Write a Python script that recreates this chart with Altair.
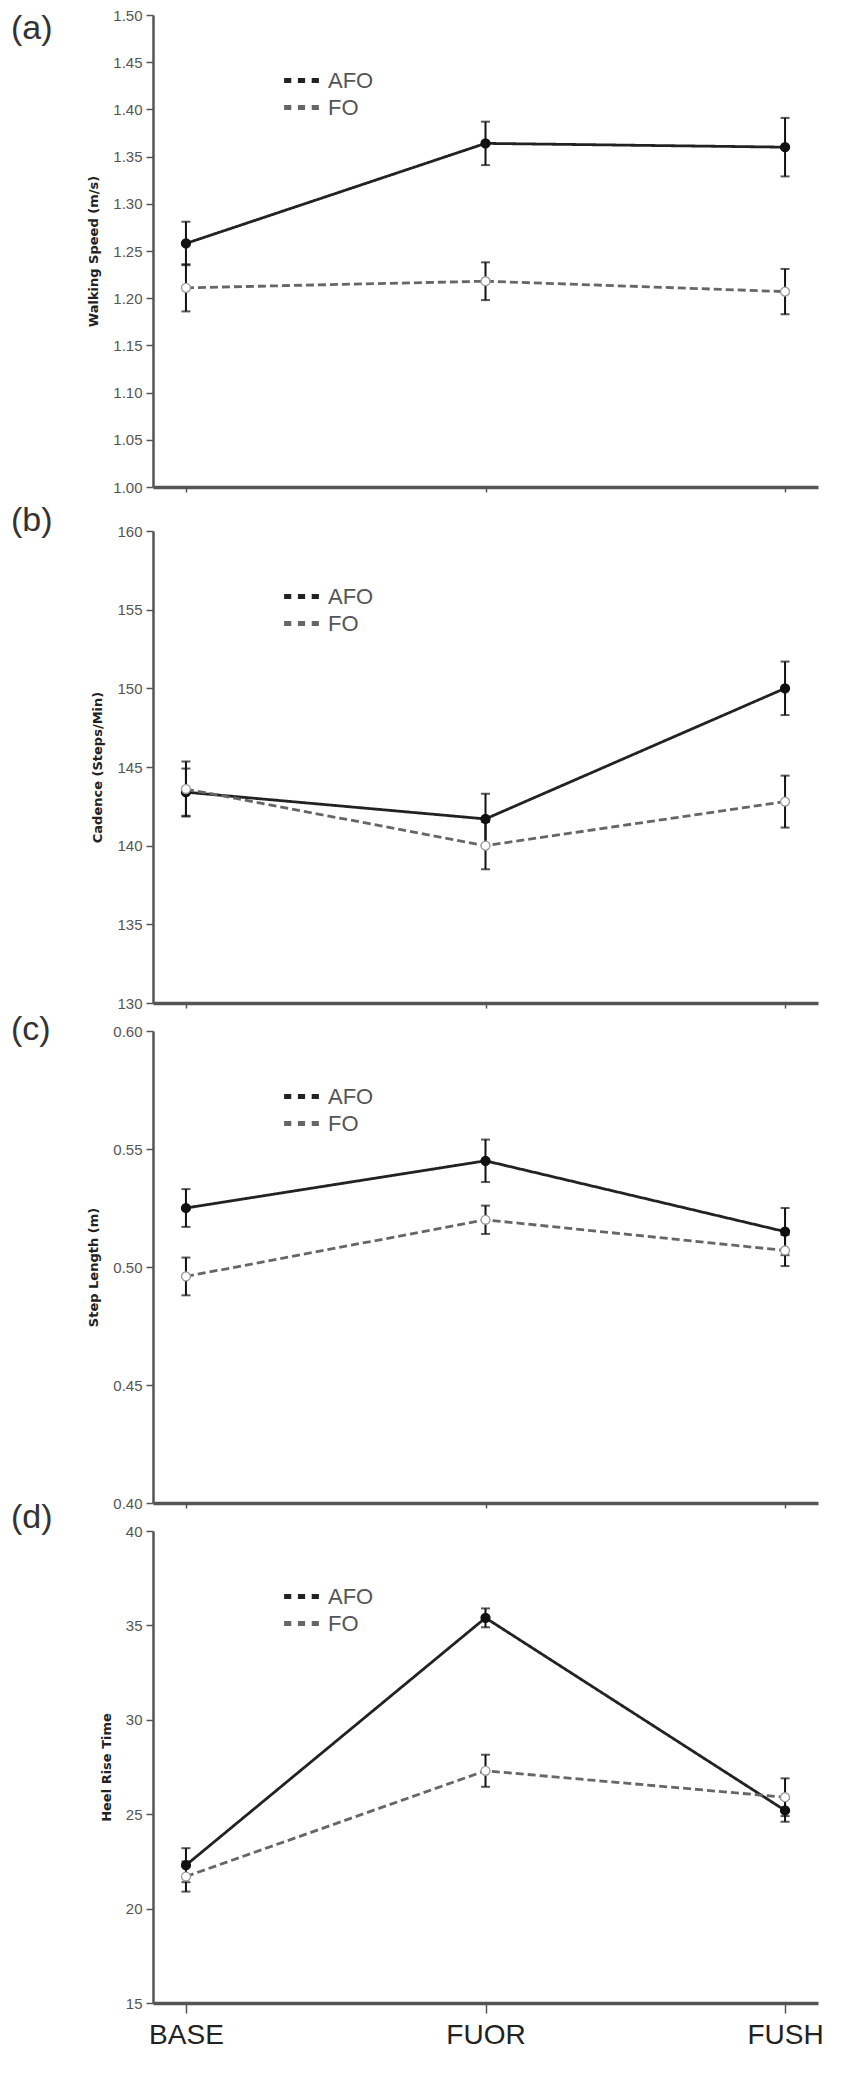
import pandas as pd
import altair as alt

phases = ["BASE", "FUOR", "FUSH"]
groups = ["AFO", "FO"]

# (a) walking speed, m/s  (mean and half error bar)
speed_afo = [1.258, 1.364, 1.360]
speed_afo_err = [0.023, 0.023, 0.031]
speed_fo = [1.211, 1.218, 1.207]
speed_fo_err = [0.025, 0.020, 0.024]
speed_ticks = [1.00, 1.05, 1.10, 1.15, 1.20, 1.25, 1.30, 1.35, 1.40, 1.45, 1.50]

# (b) cadence, steps/min
cad_afo = [143.4, 141.7, 150.0]
cad_afo_err = [1.5, 1.6, 1.7]
cad_fo = [143.6, 140.0, 142.8]
cad_fo_err = [1.75, 1.5, 1.65]
cad_ticks = [130, 135, 140, 145, 150, 155, 160]

# (c) step length, m
step_afo = [0.525, 0.545, 0.515]
step_afo_err = [0.008, 0.009, 0.010]
step_fo = [0.496, 0.520, 0.507]
step_fo_err = [0.008, 0.006, 0.0066]
step_ticks = [0.40, 0.45, 0.50, 0.55, 0.60]

# (d) heel rise time
heel_afo = [22.3, 35.4, 25.2]
heel_afo_err = [0.9, 0.5, 0.6]
heel_fo = [21.7, 27.3, 25.9]
heel_fo_err = [0.8, 0.85, 1.0]
heel_ticks = [15, 20, 25, 30, 35, 40]

W, H = 665, 472
FONT = "Liberation Sans"
# three short strokes, like the key in the original figure
KEY = "M-1.45,0H-0.85M-0.3,0H0.3M0.85,0H1.45"


def frame(afo, afo_err, fo, fo_err):
    rows = []
    for g, means, errs in (("AFO", afo, afo_err), ("FO", fo, fo_err)):
        for p, m, e in zip(phases, means, errs):
            rows.append({"phase": p, "group": g, "mean": m, "lo": m - e, "hi": m + e})
    return pd.DataFrame(rows)


def panel(df, title, ticks, fmt, tag, tag_y, last=False):
    x = alt.X("phase:N", sort=phases,
              scale=alt.Scale(type="point", padding=0.11),
              axis=alt.Axis(title=None, labels=last, labelAngle=0, labelFontSize=28,
                            labelFont=FONT, labelColor="#222", labelPadding=8,
                            tickSize=10 if last else 5, tickColor="#555", tickWidth=1.5,
                            domainColor="#555", domainWidth=3.5, grid=False))
    yaxis = alt.Axis(title=title, values=ticks, format=fmt, grid=False,
                     labelFontSize=15, labelFont=FONT, labelColor="#555", labelPadding=4,
                     tickSize=7, tickColor="#555", tickWidth=1.5,
                     domainColor="#555", domainWidth=2.5,
                     titleFont="DejaVu Sans", titleFontSize=13, titleFontWeight="bold",
                     titleColor="#222", titlePadding=12)
    yscale = alt.Scale(domain=[ticks[0], ticks[-1]], nice=False, zero=False)
    base = alt.Chart(df)

    lines = base.mark_line(strokeWidth=2.8).encode(
        x=x,
        y=alt.Y("mean:Q", scale=yscale, axis=yaxis),
        color=alt.Color("group:N", scale=alt.Scale(domain=groups, range=["#222222", "#666666"]),
                        legend=alt.Legend(title=None, orient="none", legendX=134, legendY=51,
                                          symbolType=KEY, symbolSize=576, symbolStrokeWidth=5,
                                          labelFontSize=22, labelFont=FONT,
                                          labelColor="#555", labelOffset=12, rowPadding=1,
                                          padding=0)),
        strokeDash=alt.StrokeDash("group:N", scale=alt.Scale(domain=groups, range=[[1, 0], [8, 4]]),
                                  legend=None),
    )
    bars = base.mark_errorbar(ticks=True, size=9, thickness=2, color="#111").encode(
        x=x,
        y=alt.Y("lo:Q", scale=yscale, axis=yaxis),
        y2="hi:Q",
    )
    dots = base.mark_circle(size=80, opacity=1, strokeWidth=1.3).encode(
        x=x,
        y=alt.Y("mean:Q", scale=yscale, axis=yaxis),
        fill=alt.Fill("group:N", scale=alt.Scale(domain=groups, range=["#111", "#ffffff"]), legend=None),
        stroke=alt.Stroke("group:N", scale=alt.Scale(domain=groups, range=["#111", "#9a9a9a"]), legend=None),
    )
    label = alt.Chart(pd.DataFrame({"tag": [tag]})).mark_text(
        align="left", baseline="alphabetic", fontSize=34, font=FONT, color="#333"
    ).encode(x=alt.value(-142), y=alt.value(tag_y), text="tag:N")

    return alt.layer(lines, bars, dots, label).properties(width=W, height=H)


pa = panel(frame(speed_afo, speed_afo_err, speed_fo, speed_fo_err),
           "Walking Speed (m/s)", speed_ticks, ".2f", "(a)", 24)
pb = panel(frame(cad_afo, cad_afo_err, cad_fo, cad_fo_err),
           "Cadence (Steps/Min)", cad_ticks, "d", "(b)", 0)
pc = panel(frame(step_afo, step_afo_err, step_fo, step_fo_err),
           "Step Length (m)", step_ticks, ".2f", "(c)", 9)
pd_ = panel(frame(heel_afo, heel_afo_err, heel_fo, heel_fo_err),
            "Heel Rise Time", heel_ticks, "d", "(d)", -3, last=True)

indep = dict(x="independent", y="independent", color="independent",
             strokeDash="independent", fill="independent", stroke="independent")

lower = alt.vconcat(pb, pc, pd_, spacing=28, bounds="flush").resolve_scale(**indep).resolve_legend(
    color="independent")

chart = alt.vconcat(pa, lower, spacing=44, bounds="flush").resolve_scale(**indep).resolve_legend(
    color="independent").properties(
    padding={"left": 3, "top": 0, "right": 0, "bottom": 0}).configure_view(stroke=None)

chart.save("out.html", embed_options={"renderer": "svg", "actions": False})
